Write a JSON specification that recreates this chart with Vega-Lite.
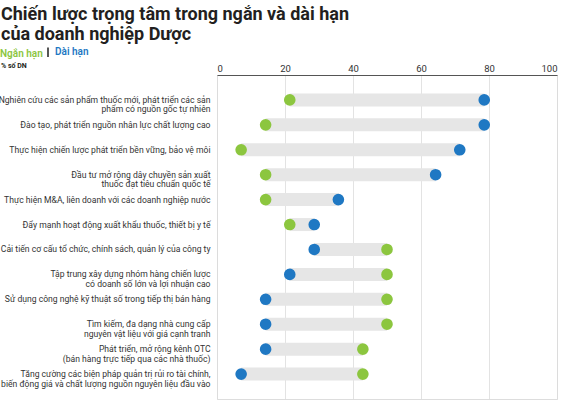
{
  "$schema": "https://vega.github.io/schema/vega-lite/v6.json",
  "width": 340,
  "height": 324,
  "autosize": {"type": "none"},
  "padding": {"left": 217, "top": 75, "right": 9, "bottom": 1},
  "background": "white",
  "title": {
    "text": ["Chiến lược trọng tâm trong ngắn và dài hạn", "của doanh nghiệp Dược"],
    "subtitle": "% số DN",
    "anchor": "start",
    "frame": "group",
    "dx": -216,
    "offset": -22,
    "font": "Roboto",
    "fontSize": 18,
    "fontWeight": "bold",
    "lineHeight": 20,
    "color": "#231f20",
    "subtitleFont": "Roboto",
    "subtitleFontSize": 7,
    "subtitleFontWeight": "bold",
    "subtitleColor": "#231f20",
    "subtitlePadding": 18
  },
  "data": {
    "values": [
      {"label": "Nghiên cứu các sản phẩm thuốc mới, phát triển các sản|phẩm có nguồn gốc tự nhiên", "Ngắn hạn": 21.4, "Dài hạn": 78.6},
      {"label": "Đào tạo, phát triển nguồn nhân lực chất lượng cao", "Ngắn hạn": 14.3, "Dài hạn": 78.6},
      {"label": "Thực hiện chiến lược phát triển bền vững, bảo vệ môi", "Ngắn hạn": 7.1, "Dài hạn": 71.4},
      {"label": "Đầu tư mở rộng dây chuyền sản xuất|thuốc đạt tiêu chuẩn quốc tế", "Ngắn hạn": 14.3, "Dài hạn": 64.3},
      {"label": "Thực hiện M&A, liên doanh với các doanh nghiệp nước", "Ngắn hạn": 14.3, "Dài hạn": 35.7},
      {"label": "Đẩy mạnh hoạt động xuất khẩu thuốc, thiết bị y tế", "Ngắn hạn": 21.4, "Dài hạn": 28.6},
      {"label": "Cải tiến cơ cấu tổ chức, chính sách, quản lý của công ty", "Ngắn hạn": 50, "Dài hạn": 28.6},
      {"label": "Tập trung xây dựng nhóm hàng chiến lược|có doanh số lớn và lợi nhuận cao", "Ngắn hạn": 50, "Dài hạn": 21.4},
      {"label": "Sử dụng công nghệ kỹ thuật số trong tiếp thị bán hàng", "Ngắn hạn": 50, "Dài hạn": 14.3},
      {"label": "Tìm kiếm, đa dạng nhà cung cấp|nguyên vật liệu với giá cạnh tranh", "Ngắn hạn": 50, "Dài hạn": 14.3},
      {"label": "Phát triển, mở rộng kênh OTC|(bán hàng trực tiếp qua các nhà thuốc)", "Ngắn hạn": 42.9, "Dài hạn": 14.3},
      {"label": "Tăng cường các biện pháp quản trị rủi ro tài chính,|biến động giá và chất lượng nguồn nguyên liệu đầu vào", "Ngắn hạn": 42.9, "Dài hạn": 7.1}
    ]
  },
  "encoding": {
    "y": {
      "field": "label",
      "type": "nominal",
      "sort": null,
      "scale": {"padding": 1},
      "axis": {
        "title": null,
        "domain": false,
        "ticks": false,
        "grid": false,
        "labelPadding": 7,
        "labelFont": "Roboto",
        "labelFontSize": 8.6,
        "labelColor": "#333333",
        "labelLineHeight": 9.5,
        "labelLimit": 260,
        "labelExpr": "split(datum.label, '|')"
      }
    }
  },
  "layer": [
    {
      "mark": {"type": "rule", "strokeWidth": 13, "color": "#e6e6e6", "strokeCap": "butt"},
      "encoding": {
        "x": {
          "field": "Ngắn hạn",
          "type": "quantitative",
          "scale": {"domain": [0, 100]},
          "axis": {
            "orient": "top",
            "title": null,
            "values": [0, 20, 40, 60, 80, 100],
            "ticks": false,
            "labelPadding": 2,
            "labelFont": "Roboto",
            "labelFontSize": 9.5,
            "labelColor": "#333333",
            "domainColor": "#555555",
            "domainWidth": 1.2,
            "gridColor": "#dcdcdc",
            "gridWidth": 0.8
          }
        },
        "x2": {"field": "Dài hạn"}
      }
    },
    {
      "transform": [{"fold": ["Ngắn hạn", "Dài hạn"], "as": ["type", "value"]}],
      "mark": {"type": "circle", "size": 135, "opacity": 1},
      "encoding": {
        "x": {"field": "value", "type": "quantitative"},
        "color": {
          "field": "type",
          "type": "nominal",
          "scale": {"domain": ["Ngắn hạn", "Dài hạn"], "range": ["#8cc63f", "#1f78c3"]},
          "legend": {
            "orient": "none",
            "legendX": -229,
            "legendY": -28,
            "direction": "horizontal",
            "title": null,
            "symbolType": "M0,-1.6L0,1.6",
            "symbolSize": 36,
            "symbolStrokeWidth": 1.8,
            "symbolStrokeColor": "#444444",
            "symbolOpacity": {"expr": "datum.value === 'Dài hạn' ? 1 : 0"},
            "labelFont": "Roboto",
            "labelFontSize": 10,
            "labelFontWeight": 600,
            "labelOffset": 2,
            "columnPadding": 0,
            "labelColor": {"expr": "datum.value === 'Dài hạn' ? '#1f78c3' : '#8cc63f'"}
          }
        },
        "tooltip": [
          {"field": "label", "type": "nominal"},
          {"field": "type", "type": "nominal"},
          {"field": "value", "type": "quantitative"}
        ]
      }
    }
  ]
}
